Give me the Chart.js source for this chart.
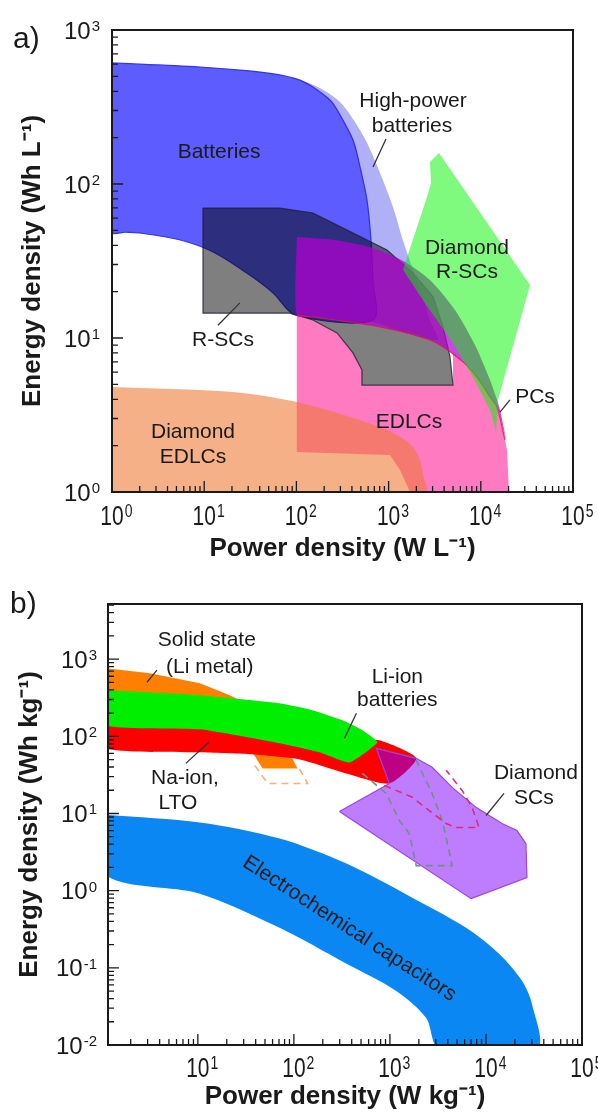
<!DOCTYPE html>
<html>
<head>
<meta charset="utf-8">
<script src="https://cdn.jsdelivr.net/npm/chart.js@4.4.1/dist/chart.umd.min.js"></script>
<style>
  body { margin: 0; background: #fff; }
  canvas { display: block; }
</style>
</head>
<body>
<canvas id="chartA" width="598" height="570"></canvas>
<canvas id="chartB" width="598" height="545"></canvas>
<script>
// ---------- panel a: power density (W/L) vs energy density (Wh/L)
const highPowerA = [[31, 542], [66, 511], [109, 473], [180, 420], [297, 341], [432, 253], [583, 185], [807, 118], [1116, 71], [1432, 43], [1795, 29], [2303, 19], [2812, 13.1], [3350, 9.7], [677, 12.7], [109, 17.6], [31, 32]];
const batteriesA = [[1, 611], [9, 575], [31, 542], [66, 511], [109, 473], [151, 426], [231, 351], [276, 303], [411, 193], [490, 129], [583, 78.7], [644, 43.3], [677, 23.8], [677, 13.1], [97, 14.1], [56, 19.6], [29, 26.4], [12.5, 36.2], [5.5, 43.3], [2, 48.1], [1.4, 48.6], [1, 48.8]];
const edlcA = [[101, 14.1], [151, 13.1], [276, 10.8], [411, 8.0], [514, 6.2], [514, 4.95], [4990, 4.95], [4990, 8.11], [5521, 7.53], [9097, 5.58], [12590, 4.14], [14990, 3.56], [17420, 2.53], [19240, 1.87], [20220, 1], [1708, 1], [1330, 1.39], [1035, 1.74], [101, 1.82]];
const rscA = [[9.7, 69.8], [66, 69.8], [151, 64.8], [354, 50.3], [961, 37.3], [1841, 26.4], [3033, 18.5], [3890, 11.8], [4634, 7.53], [4990, 4.95], [514, 4.95], [514, 6.2], [411, 8.0], [276, 10.8], [151, 13.1], [85, 14.5], [9.7, 14.5]];
const pcA = [[101, 45.3], [262, 43.3], [677, 38.4], [1507, 31.2], [2812, 23.8], [5248, 15.2], [8650, 9.0], [12590, 5.33], [16150, 3.41], [18760, 2.18], [14990, 3.56], [12590, 4.14], [9097, 5.58], [5521, 7.53], [2812, 9.7], [807, 11.8], [151, 13.7], [101, 14.1]];
const pcEdgeA = [[101, 14.1], [151, 13.7], [807, 11.8], [2812, 9.7], [5521, 7.53], [9097, 5.58], [12590, 4.14], [14990, 3.56], [18290, 2.18]];
const diamondEdlcA = [[1, 4.81], [20.5, 4.46], [101, 3.84], [381, 3.07], [961, 2.53], [1508, 2.18], [1841, 1.96], [2191, 1.61], [2361, 1.3], [2483, 1], [1, 1]];
const diamondRscA = [[3521, 159], [2812, 139], [2884, 101], [2609, 82.4], [1432, 27.7], [2361, 17.6], [4990, 9.29], [8227, 5.58], [12590, 3.41], [14620, 2.45], [15370, 3.96], [34200, 22.1]];
const xTicksA = [1, 10, 100, 1000, 10000, 100000];
const yTicksA = [1, 10, 100, 1000];
const notesA = [['Batteries', 14.5, 161], ['High-power', 1841, 346], ['batteries', 1795, 238], ['Diamond', 7080, 38.4], ['R-SCs', 7080, 26.9],
  ['R-SCs', 16, 9.7], ['Diamond', 7.56, 2.45], ['EDLCs', 7.56, 1.69], ['EDLCs', 1663, 2.85], ['PCs', 38700, 4.14]];
const pointersA = [[[937, 196], [677, 129]], [[14.1, 12.1], [24.4, 16.9]], [[16150, 3.3], [20740, 3.96]]];

// ---------- panel b: power density (W/kg) vs energy density (Wh/kg)
const ecB = [[1.1, 9.6], [10.5, 7.64], [71.1, 4.73], [353, 2.24], [1709, 0.811], [6214, 0.33], [13680, 0.152], [23720, 0.0678], [30110, 0.034], [33960, 0.009], [3258, 0.009], [2388, 0.0224], [1165, 0.0502], [353, 0.113], [71.1, 0.33], [10.5, 0.914], [1.1, 1.6]];
const solidB = [[1.1, 764], [3.17, 658], [10.5, 488], [21.5, 341], [44, 218], [76.4, 88.7], [109, 38.4], [47.3, 38.4], [34.7, 69.8], [21.5, 103], [1.1, 218]];
const naIonB = [[1.1, 152], [10.5, 135], [115, 103], [336, 88.7], [776, 88.7], [1879, 51.8], [986, 24.5], [353, 33], [115, 50.2], [34.7, 58.4], [10.5, 62], [1.1, 69.8]];
const liIonB = [[1.1, 396], [10.5, 341], [71.1, 268], [156, 218], [321, 161], [516, 120], [740, 83.6], [379, 45.9], [185, 62], [71.1, 81.1], [10.5, 123], [1.1, 139]];
const diamondScB = [[298, 10.6], [986, 24.5], [722, 69.8], [1879, 51.8], [2754, 39.6], [4446, 21.8], [7889, 12], [14690, 7.42], [21040, 6.01], [26080, 4.07], [26710, 1.48], [7002, 0.787]];
const dashPeachB = [[39.1, 42], [53.3, 24.5], [139, 24.5], [109, 42]];
const dashGrayB = [[516, 33], [918, 18.2], [1252, 8.11], [1589, 5.5], [1879, 2.11], [4446, 2.11], [3852, 4.88], [3499, 8.11], [2754, 18.2], [1879, 48.8]];
const dashPinkB = [[875, 23.1], [1709, 16.2], [2565, 10.9], [3852, 7.42], [4894, 6.58], [8472, 6.58], [7171, 12], [5649, 19.9], [3852, 36.2]];
const xTicksB = [10, 100, 1000, 10000, 100000];
const yTicksB = [0.01, 0.1, 1, 10, 100, 1000];
const notesB = [['Solid state', 12.4, 1765], ['(Li metal)', 13.3, 787], ['Na-ion,', 7.33, 28.5], ['LTO', 6.2, 13.5], ['Li-ion', 1194, 584],
  ['batteries', 1194, 294], ['Diamond', 33130, 33], ['SCs', 31600, 15.7], ['Electrochemical capacitors', 379, 0.321, 33]];
const pointersB = [[[2.95, 502], [3.75, 720]], [[7.5, 44.6], [13, 83.6]], [[336, 94.2], [448, 199]], [[10020, 9.42], [15410, 18.2]]];

const FONT = '"Liberation Sans", Arial, Helvetica, sans-serif';
const INK = '#1a1a1a';

function pts(data) {
  return data.map(([x, y]) => ({x, y}));
}
function area(data, color, opts) {
  const o = opts || {};
  return {
    data: pts(data).concat(pts([data[0]])), fill: 'shape', backgroundColor: color,
    borderColor: o.border || 'rgba(0,0,0,0)', borderWidth: o.bw || 1, pointRadius: 0, tension: o.tension || 0
  };
}
function path(data, color, dash, bw, tension) {
  return {data: pts(data), fill: false, borderColor: color, borderWidth: bw || 1.5, borderDash: dash || [], pointRadius: 0, tension: tension || 0};
}

function logTicks(min, max) {
  const out = [];
  for (let e = Math.floor(Math.log10(min)); e <= Math.ceil(Math.log10(max)); e++) {
    for (let k = 1; k <= 9; k++) {
      const v = k * Math.pow(10, e);
      if (v >= min * 0.9999 && v <= max * 1.0001) out.push({v, major: k === 1});
    }
  }
  return out;
}

// "10" with a raised exponent
function powerLabel(ctx, value, x, y, o) {
  const exp = String(Math.round(Math.log10(value)));
  ctx.save();
  ctx.translate(x, y);
  ctx.scale(1, o.stretch);
  ctx.fillStyle = INK;
  ctx.textBaseline = 'alphabetic';
  ctx.textAlign = 'left';
  ctx.font = o.size + 'px ' + FONT;
  const w10 = ctx.measureText('10').width;
  ctx.font = o.sup + 'px ' + FONT;
  const ws = ctx.measureText(exp).width;
  const left = o.anchor === 'right' ? -(w10 + ws + 1) : -w10 / 2;
  ctx.font = o.size + 'px ' + FONT;
  ctx.fillText('10', left, o.size * 0.36);
  ctx.font = o.sup + 'px ' + FONT;
  ctx.fillText(exp, left + w10 + 1, -o.size * 0.36 + o.sup * 0.64);
  ctx.restore();
}

function decoPlugin(d) {
  return {
    id: 'ragone',
    afterDatasetsDraw(chart) {
      const {ctx, chartArea: a} = chart;
      const xs = chart.scales.x, ys = chart.scales.y;
      ctx.save();
      // inward ticks on left and bottom axes
      ctx.strokeStyle = INK;
      ctx.lineWidth = 1.3;
      ctx.beginPath();
      for (const t of logTicks(xs.min, xs.max)) {
        const px = xs.getPixelForValue(t.v);
        ctx.moveTo(px, a.bottom);
        ctx.lineTo(px, a.bottom - (t.major ? 11 : 6));
      }
      for (const t of logTicks(ys.min, ys.max)) {
        const py = ys.getPixelForValue(t.v);
        ctx.moveTo(a.left, py);
        ctx.lineTo(a.left + (t.major ? 11 : 6), py);
      }
      ctx.stroke();
      ctx.lineWidth = 2;
      ctx.strokeRect(a.left, a.top, a.right - a.left, a.bottom - a.top);

      for (const v of d.xTicks) {
        powerLabel(ctx, v, xs.getPixelForValue(v), a.bottom + d.xLabelGap, {size: 21, sup: 14, stretch: 1.35, anchor: 'center'});
      }
      for (const v of d.yTicks) {
        powerLabel(ctx, v, a.left - d.yLabelGap, ys.getPixelForValue(v), {size: 24, sup: 15, stretch: 1, anchor: 'right'});
      }

      // pointer lines
      ctx.strokeStyle = '#333';
      ctx.lineWidth = 1.3;
      for (const [p, q] of d.pointers) {
        ctx.beginPath();
        ctx.moveTo(xs.getPixelForValue(p[0]), ys.getPixelForValue(p[1]));
        ctx.lineTo(xs.getPixelForValue(q[0]), ys.getPixelForValue(q[1]));
        ctx.stroke();
      }
      // region names
      ctx.fillStyle = INK;
      ctx.font = '21px ' + FONT;
      ctx.textAlign = 'center';
      ctx.textBaseline = 'middle';
      for (const [text, xv, yv, deg] of d.notes) {
        ctx.save();
        ctx.translate(xs.getPixelForValue(xv), ys.getPixelForValue(yv));
        if (deg) ctx.rotate(deg * Math.PI / 180);
        ctx.fillText(text, 0, 0);
        ctx.restore();
      }
      // panel letter
      ctx.font = '30px ' + FONT;
      ctx.textAlign = 'left';
      ctx.fillText(d.letter[0], d.letter[1], d.letter[2]);
      ctx.restore();
    }
  };
}

function makeChart(id, c) {
  const sets = c.sets.map((s, i, all) => Object.assign(s, {order: all.length - i}));
  const titleFont = {family: FONT, size: 26, weight: 'bold', lineHeight: 1.2};
  return new Chart(document.getElementById(id), {
    type: 'line',
    data: {datasets: sets},
    options: {
      responsive: false,
      animation: false,
      events: [],
      layout: {padding: c.padding},
      plugins: {legend: {display: false}, tooltip: {enabled: false}},
      scales: {
        x: {
          type: 'logarithmic', min: c.xRange[0], max: c.xRange[1],
          grid: {display: false}, border: {display: false}, ticks: {display: false},
          title: {display: true, text: c.xTitle, font: titleFont, color: INK, padding: {top: 0, bottom: c.xTitlePad}},
          afterFit(s) { s.height = c.xHeight; s.paddingLeft = 0; s.paddingRight = 0; }
        },
        y: {
          type: 'logarithmic', min: c.yRange[0], max: c.yRange[1],
          grid: {display: false}, border: {display: false}, ticks: {display: false},
          title: {display: true, text: c.yTitle, font: titleFont, color: INK, padding: {top: c.yTitlePad, bottom: 0}},
          afterFit(s) { s.width = c.yWidth; s.paddingTop = 0; s.paddingBottom = 0; }
        }
      }
    },
    plugins: [decoPlugin(c.deco)]
  });
}

makeChart('chartA', {
  xRange: [1, 100000], yRange: [1, 1000],
  padding: {top: 30, right: 25, left: 0, bottom: 0},
  xHeight: 78, yWidth: 112, xTitlePad: 6, yTitlePad: 17,
  xTitle: 'Power density (W L⁻¹)', yTitle: 'Energy density (Wh L⁻¹)',
  sets: [
    area(highPowerA, 'rgb(176,176,246)', {tension: 0.3}),
    area(batteriesA, 'rgb(92,92,255)', {border: 'rgba(40,40,225,0.9)', bw: 1.2, tension: 0.3}),
    area(edlcA, 'rgb(255,122,192)'),
    area(rscA, 'rgba(0,0,0,0.5)', {border: 'rgba(30,30,50,0.8)', bw: 1.2}),
    area(pcA, 'rgba(180,0,210,0.72)', {tension: 0.25}),
    path(pcEdgeA, 'rgba(215,30,70,0.85)', [], 1.2, 0.25),
    area(diamondEdlcA, 'rgba(238,120,52,0.59)', {tension: 0.3}),
    area(diamondRscA, 'rgba(0,245,0,0.5)')
  ],
  deco: {xTicks: xTicksA, yTicks: yTicksA, xLabelGap: 23, yLabelGap: 12, notes: notesA, pointers: pointersA, letter: ['a)', 13, 40]}
});

makeChart('chartB', {
  xRange: [1.16, 100000], yRange: [0.01, 5180],
  padding: {top: 34, right: 16, left: 0, bottom: 0},
  xHeight: 70, yWidth: 108, xTitlePad: 3, yTitlePad: 14,
  xTitle: 'Power density (W kg⁻¹)', yTitle: 'Energy density (Wh kg⁻¹)',
  sets: [
    area(ecB, 'rgb(10,135,242)', {tension: 0.3}),
    area(solidB, 'rgb(255,128,0)'),
    area(naIonB, 'rgb(255,0,0)', {tension: 0.2}),
    area(liIonB, 'rgb(0,238,0)', {tension: 0.15}),
    area(diamondScB, 'rgba(127,0,255,0.51)', {border: 'rgba(150,70,230,1)', bw: 1.2}),
    path(dashPeachB, 'rgb(250,175,125)', [7, 5], 1.6),
    path(dashGrayB, 'rgb(110,145,125)', [7, 5], 1.6),
    path(dashPinkB, 'rgb(215,45,125)', [7, 5], 1.6)
  ],
  deco: {xTicks: xTicksB, yTicks: yTicksB, xLabelGap: 22, yLabelGap: 11, notes: notesB, pointers: pointersB, letter: ['b)', 10, 35]}
});
</script>
</body>
</html>
